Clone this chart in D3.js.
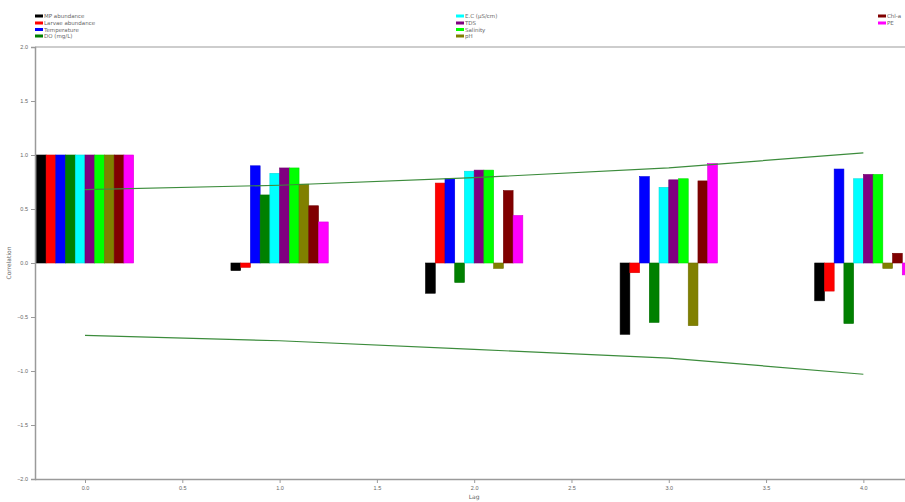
<!DOCTYPE html>
<html>
<head>
<meta charset="utf-8">
<script src="https://cdn.jsdelivr.net/npm/d3@7"></script>
<style>
  html, body { margin: 0; padding: 0; background: #fff; }
  svg { display: block; font-family: "DejaVu Sans", sans-serif; }
</style>
</head>
<body>
<svg id="chart" width="905" height="502"></svg>
<script>
// Cross-correlation of each variable against lag
const lags = [0, 1, 2, 3, 4];
const seriesNames = ["MP abundance", "Larvae abundance", "Temperature", "DO (mg/L)",
  "E.C (µS/cm)", "TDS", "Salinity", "pH", "Chl-a", "PE"];
const seriesColors = ["#000000", "#ff0000", "#0000ff", "#008000", "#00ffff",
  "#800080", "#00ff00", "#808000", "#800000", "#ff00ff"];

const mpAbundance     = [1.00, -0.07, -0.28, -0.66, -0.35];
const larvaeAbundance = [1.00, -0.04,  0.74, -0.09, -0.26];
const temperature     = [1.00,  0.90,  0.78,  0.80,  0.87];
const doMgL           = [1.00,  0.63, -0.18, -0.55, -0.56];
const ecUsCm          = [1.00,  0.83,  0.85,  0.70,  0.78];
const tds             = [1.00,  0.88,  0.86,  0.77,  0.82];
const salinity        = [1.00,  0.88,  0.86,  0.78,  0.82];
const ph              = [1.00,  0.73, -0.05, -0.58, -0.05];
const chlA            = [1.00,  0.53,  0.67,  0.76,  0.09];
const pe              = [1.00,  0.38,  0.44,  0.92, -0.11];
const seriesValues = [mpAbundance, larvaeAbundance, temperature, doMgL, ecUsCm,
  tds, salinity, ph, chlA, pe];

// Confidence bounds
const upperBound = [0.68, 0.72, 0.79, 0.88, 1.02];
const lowerBound = [-0.67, -0.72, -0.80, -0.88, -1.03];

const xTicks = [0.0, 0.5, 1.0, 1.5, 2.0, 2.5, 3.0, 3.5, 4.0];
const yTicks = [2.0, 1.5, 1.0, 0.5, 0.0, -0.5, -1.0, -1.5, -2.0];

const svg = d3.select("#chart");
const plotLeft = 35, plotTop = 47, plotBottom = 479;
const x = d3.scaleLinear().domain([-0.257, 4.25]).range([plotLeft, 912]);
const y = d3.scaleLinear().domain([-2, 2]).range([plotBottom, plotTop]);
const barW = 0.05;

const axisColor = "#9a9a9a";
const textColor = "#666";

// top frame line
svg.append("line").attr("x1", plotLeft).attr("x2", 905)
  .attr("y1", y(2)).attr("y2", y(2))
  .attr("stroke", "#bdbdbd").attr("stroke-width", 1.5);

// bars
const bars = [];
seriesValues.forEach((vals, si) => {
  vals.forEach((v, li) => bars.push({ si, lag: lags[li], v }));
});
svg.append("g").selectAll("rect").data(bars).join("rect")
  .attr("x", d => x(d.lag - 0.25 + d.si * barW))
  .attr("width", d => x(barW) - x(0))
  .attr("y", d => y(Math.max(0, d.v)))
  .attr("height", d => Math.abs(y(d.v) - y(0)))
  .attr("fill", d => seriesColors[d.si])
  .attr("stroke", d => d3.color(seriesColors[d.si]).darker(0.4))
  .attr("stroke-width", 0.6);

// confidence lines
const line = d3.line().x((d, i) => x(lags[i])).y(d => y(d));
[upperBound, lowerBound].forEach(b => {
  svg.append("path").datum(b).attr("d", line)
    .attr("fill", "none").attr("stroke", "#3c8c3c").attr("stroke-width", 1.2);
});

// axes
const yAxis = svg.append("g").attr("transform", `translate(${plotLeft},0)`)
  .call(d3.axisLeft(y).tickValues(yTicks).tickSize(4).tickFormat(d3.format(".1f")));
const xAxis = svg.append("g").attr("transform", `translate(0,${plotBottom})`)
  .call(d3.axisBottom(x).tickValues(xTicks).tickSize(4).tickFormat(d3.format(".1f")));
[yAxis, xAxis].forEach(a => {
  a.select(".domain").attr("stroke", axisColor).attr("stroke-width", 1.5);
  a.selectAll(".tick line").attr("stroke", axisColor);
  a.selectAll(".tick text").attr("fill", textColor).attr("font-size", 5.5);
});
xAxis.select(".domain").attr("d", `M${plotLeft},0.5H905`);

svg.append("text").attr("x", x(2.0)).attr("y", 499)
  .attr("text-anchor", "middle").attr("font-size", 6).attr("fill", textColor).text("Lag");
svg.append("text").attr("transform", `translate(11,${y(0)}) rotate(-90)`)
  .attr("text-anchor", "middle").attr("font-size", 6).attr("fill", textColor).text("Correlation");

// legend in three columns
const legendCols = [35, 456, 878];
const legendRows = [16, 23, 29.5, 36];
const colOf = i => (i < 4 ? 0 : i < 8 ? 1 : 2);
const rowOf = i => (i < 4 ? i : i < 8 ? i - 4 : i - 8);
const leg = svg.append("g").selectAll("g").data(seriesNames).join("g")
  .attr("transform", (d, i) => `translate(${legendCols[colOf(i)]},${legendRows[rowOf(i)]})`);
leg.append("rect").attr("x", 0).attr("y", -1.5).attr("width", 8).attr("height", 3)
  .attr("fill", (d, i) => seriesColors[i]);
leg.append("text").attr("x", 9).attr("y", 2).attr("font-size", 5.5)
  .attr("fill", textColor).text(d => d);
</script>
</body>
</html>
